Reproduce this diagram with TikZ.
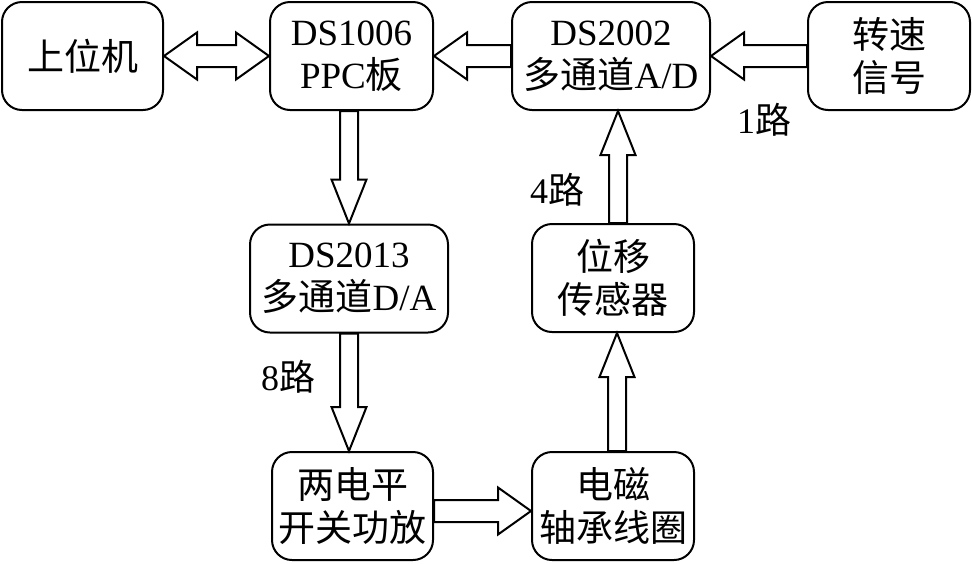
\documentclass[tikz,border=0pt]{standalone}
\usepackage{fontspec}
\setmainfont{Liberation Serif}
\newfontfamily\cjk{Noto Sans CJK SC}
\usetikzlibrary{calc}

\tikzset{
  block/.style={draw, line width=1pt, rounded corners=10pt, minimum height=54pt,
    align=center, inner sep=0pt, font=\fontsize{18.5}{21.5}\selectfont},
  hollow/.style={draw, line width=1pt, fill=white, line join=miter},
  lbl/.style={inner sep=0pt, font=\fontsize{18}{21}\selectfont},
}

% hollow block arrow: from, to, half shaft, half head, head length
\newcommand{\blkarrow}[5]{%
  \coordinate (hb) at ($(#2)!#5!(#1)$);
  \draw[hollow] ($(#1)!#3!90:(#2)$) -- ($(hb)!#3!90:(#2)$) -- ($(hb)!#4!90:(#2)$) -- (#2)
    -- ($(hb)!#4!-90:(#2)$) -- ($(hb)!#3!-90:(#2)$) -- ($(#1)!#3!-90:(#2)$) -- cycle;
}
% same, with a head at both ends
\newcommand{\dblkarrow}[5]{%
  \coordinate (ha) at ($(#1)!#5!(#2)$);
  \coordinate (hb) at ($(#2)!#5!(#1)$);
  \draw[hollow] (#1) -- ($(ha)!#4!90:(#2)$) -- ($(ha)!#3!90:(#2)$) -- ($(hb)!#3!90:(#2)$)
    -- ($(hb)!#4!90:(#2)$) -- (#2) -- ($(hb)!#4!-90:(#2)$) -- ($(hb)!#3!-90:(#2)$)
    -- ($(ha)!#3!-90:(#2)$) -- ($(ha)!#4!-90:(#2)$) -- cycle;
}

\begin{document}
\begin{tikzpicture}[x=0.5pt, y=-0.5pt]
    \useasboundingbox (0,0) rectangle (972,563);

    % top row
    \node[block, minimum width=80.5pt] (up) at (82.5,56) {{\cjk 上位机}};
    \node[block, minimum width=81.5pt] (ppc) at (351.5,56) {DS1006\\PPC{\cjk 板}};
    \node[block, minimum width=99pt] (ad) at (611,56) {DS2002\\{\cjk 多通道}A/D};
    \node[block, minimum width=81pt] (speed) at (889,56) {{\cjk 转速}\\{\cjk 信号}};

    % middle row
    \node[block, minimum width=99pt] (da) at (349,278.5) {DS2013\\{\cjk 多通道}D/A};
    \node[block, minimum width=81pt] (sensor) at (613,278) {{\cjk 位移}\\{\cjk 传感器}};

    % bottom row
    \node[block, minimum width=80.5pt] (amp) at (352.5,506) {{\cjk 两电平}\\{\cjk 开关功放}};
    \node[block, minimum width=81pt] (coil) at (613,506) {{\cjk 电磁}\\{\cjk 轴承线圈}};

    % arrow ends
    \coordinate (c1) at (ppc.south -| da.north);
    \coordinate (c2) at (da.south |- amp.north);
    \coordinate (c3) at ($(amp.east)+(0,5)$);
    \coordinate (c4) at ($(coil.west)+(0,5)$);
    \coordinate (c5) at ($(coil.north)+(4,0)$);
    \coordinate (c6) at ($(sensor.south)+(4,0)$);
    \coordinate (c7) at ($(sensor.north)+(5,0)$);
    \coordinate (c8) at (c7 |- ad.south);

    \dblkarrow{up.east}{ppc.west}{5.5pt}{11.75pt}{16.5pt}
    \blkarrow{ad.west}{ppc.east}{5.5pt}{11.75pt}{16.5pt}
    \blkarrow{speed.west}{ad.east}{5.5pt}{11.75pt}{16.5pt}
    \blkarrow{c1}{da.north}{4.5pt}{8.75pt}{22pt}
    \blkarrow{da.south}{c2}{4.5pt}{8.75pt}{22pt}
    \blkarrow{c3}{c4}{5.5pt}{11.75pt}{16.5pt}
    \blkarrow{c5}{c6}{4.5pt}{8.75pt}{22pt}
    \blkarrow{c7}{c8}{4.5pt}{8.75pt}{22pt}

    % channel counts
    \node[lbl] (n1) at (764,120) {1{\cjk 路}};
    \node[lbl] (n4) at (557,190) {4{\cjk 路}};
    \node[lbl] (n8) at (288,377) {8{\cjk 路}};
\end{tikzpicture}
\end{document}
